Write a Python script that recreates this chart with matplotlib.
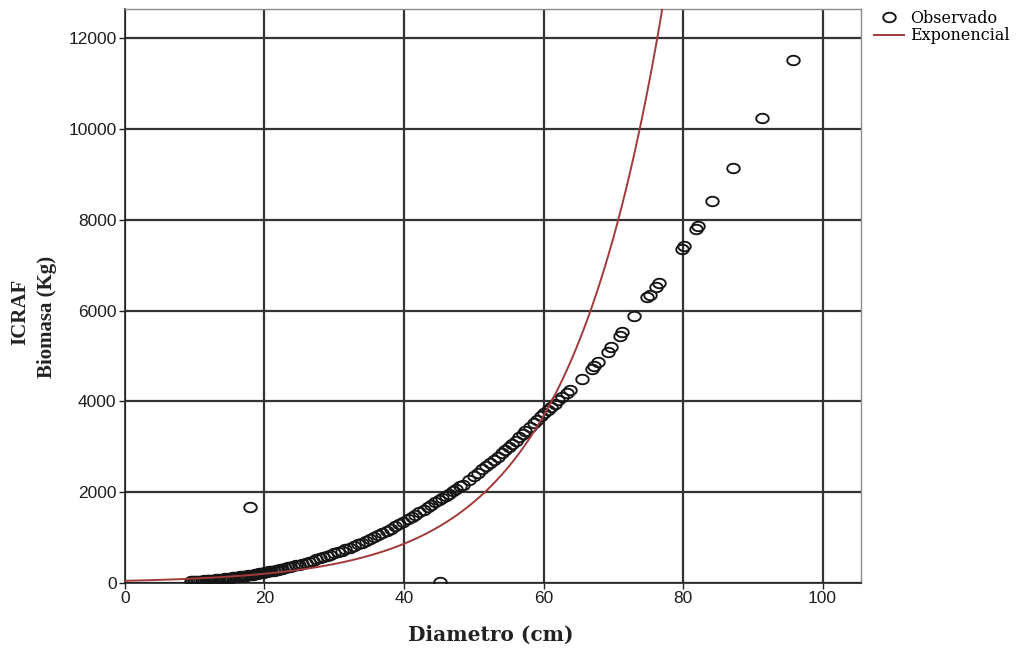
import numpy as np
import matplotlib
matplotlib.use("Agg")
import matplotlib.pyplot as plt
from matplotlib.path import Path

# Observed diameters (cm) and ICRAF biomass (kg)
diametro = [
    9.4, 9.6, 9.9, 10.1, 10.3, 10.5, 10.8, 11.0, 11.2, 11.4, 11.7, 11.9, 12.1, 12.4,
    12.6, 12.9, 13.1, 13.4, 13.7, 13.9, 14.2, 14.4, 14.7, 14.9, 15.2, 15.5, 15.7,
    16.0, 16.3, 16.5, 16.8, 17.1, 17.4, 17.7, 18.0, 18.3, 18.6, 18.9, 19.2, 19.5,
    19.8, 20.1, 20.4, 20.7, 21.0, 21.3, 21.6, 21.9, 22.2, 22.5, 22.9, 23.3, 23.7,
    24.1, 24.5, 24.9, 25.4, 25.9, 26.4, 26.9, 27.4, 27.9, 28.4, 28.9, 29.4, 29.9,
    30.5, 31.1, 31.6, 32.2, 32.8, 33.4, 34.0, 34.5, 35.1, 35.7, 36.3, 36.9, 37.5,
    38.1, 38.7, 39.3, 39.9, 40.5, 41.1, 41.6, 42.2, 42.8, 43.4, 43.9, 44.5, 45.0,
    45.5, 46.0, 46.5, 47.0, 47.5, 48.0, 48.4, 49.3, 50.0, 50.6, 51.2, 51.7, 52.3,
    52.9, 53.4, 54.0, 54.5, 55.0, 55.5, 56.0, 56.5, 57.0, 57.4, 58.0, 58.6, 59.1,
    59.6, 60.1, 60.6, 61.1, 61.6, 62.1, 62.7, 63.3, 63.8, 65.5, 67.0, 67.3, 67.8,
    69.2, 69.6, 70.9, 71.3, 72.9, 74.9, 75.2, 76.1, 76.5, 79.8, 80.1, 81.8, 82.1,
    84.2, 87.1, 91.3, 95.7, 17.9, 45.1,
]
biomasa = [
    34, 36, 39, 41, 43, 46, 49, 51, 54, 56, 60, 62, 65, 69,
    72, 76, 79, 84, 89, 92, 98, 101, 107, 110, 116, 122, 126,
    132, 138, 143, 149, 156, 163, 170, 178, 186, 193, 201, 209, 218,
    226, 235, 244, 253, 262, 272, 282, 292, 302, 312, 326, 341, 356,
    372, 388, 404, 424, 446, 470, 494, 519, 545, 571, 598, 625, 653,
    675, 710, 740, 775, 810, 850, 890, 925, 965, 1008, 1050, 1095, 1140,
    1190, 1245, 1295, 1345, 1400, 1455, 1500, 1560, 1615, 1675, 1725, 1785, 1820,
    1870, 1915, 1968, 2020, 2072, 2125, 2165, 2275, 2355, 2430, 2500, 2565, 2640,
    2715, 2785, 2860, 2930, 3000, 3065, 3135, 3205, 3280, 3340, 3425, 3515, 3590,
    3670, 3750, 3820, 3880, 3950, 4020, 4100, 4180, 4250, 4490, 4710, 4780, 4870,
    5090, 5200, 5440, 5530, 5880, 6300, 6340, 6520, 6610, 7360, 7420, 7800, 7860,
    8410, 9140, 10240, 11520, 1670, 30,
]

# Exponential model: B = a * exp(b * D)
exp_a = 47.5
exp_b = 0.0725

x_ticks = [0, 20, 40, 60, 80, 100]
y_ticks = [0, 2000, 4000, 6000, 8000, 10000, 12000]

fig = plt.figure(figsize=(10.20, 6.51), dpi=100)
ax = fig.add_axes([0.1225, 0.1045, 0.7216, 0.8817])

# slightly flattened open circle marker
t = np.linspace(0, 2 * np.pi, 64)
ellipse = Path(np.column_stack([np.cos(t), 0.76 * np.sin(t)]), closed=True)

ax.plot(diametro, biomasa, linestyle="none", marker=ellipse, markersize=9,
        markerfacecolor="none", markeredgecolor="#151515", markeredgewidth=1.35,
        zorder=3, label="Observado")

xs = np.linspace(0, 80, 400)
ax.plot(xs, exp_a * np.exp(exp_b * xs), color="#a33a3a", linewidth=1.4,
        zorder=4, label="Exponencial")

ax.set_xlim(0, 105.5)
ax.set_ylim(0, 12640)
ax.set_xticks(x_ticks)
ax.set_yticks(y_ticks)
ax.grid(True, color="#333333", linewidth=1.6)
ax.set_axisbelow(True)

for side in ("top", "right"):
    ax.spines[side].set_color("#8a8a8a")
    ax.spines[side].set_linewidth(1.0)
for side in ("left", "bottom"):
    ax.spines[side].set_color("#222222")
    ax.spines[side].set_linewidth(1.2)

ax.tick_params(axis="both", direction="out", length=4.5, width=1.0,
               color="#222222", labelsize=12.5, pad=1.5)
for lab in ax.get_xticklabels() + ax.get_yticklabels():
    lab.set_family("Liberation Sans")
    lab.set_color("#1e1e1e")

fig.text(491 / 1020, 1 - 635 / 651, "Diametro (cm)", family="DejaVu Serif",
         weight="bold", fontsize=14.5, ha="center", va="center", color="#222222")
fig.text(20 / 1020, 1 - 312 / 651, "ICRAF", family="Liberation Serif",
         weight="bold", fontsize=15, rotation=90, ha="center", va="center",
         color="#222222")
fig.text(47 / 1020, 1 - 317 / 651, "Biomasa (Kg)", family="Liberation Serif",
         weight="bold", fontsize=15, rotation=90, ha="center", va="center",
         color="#222222")

fig.legend(loc="upper left", bbox_to_anchor=(866 / 1020, 1 - 2 / 651),
           bbox_transform=fig.transFigure, frameon=False, borderpad=0,
           handlelength=1.9, handletextpad=0.35, labelspacing=0.02,
           prop={"family": "DejaVu Serif", "size": 11.5})

fig.savefig("out.png", dpi=100)
